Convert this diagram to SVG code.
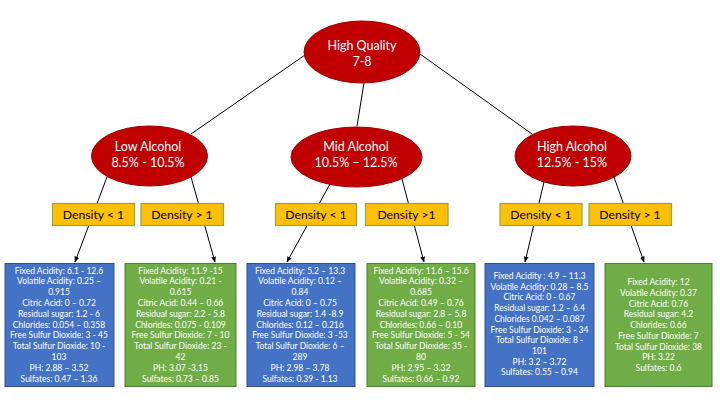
<svg xmlns="http://www.w3.org/2000/svg" width="720" height="405" viewBox="0 0 720 405">
<defs>
<marker id="arr" viewBox="0 0 10 10" refX="9" refY="5" markerWidth="6" markerHeight="6" orient="auto" markerUnits="userSpaceOnUse">
<path d="M0,1 L10,5 L0,9 z" fill="#000"/>
</marker>
<style>
.ell{fill:#C00000;stroke:#A00000;stroke-width:1}
.et{font-family:Lato,"Liberation Sans",sans-serif;font-size:12.5px;fill:#fff;text-anchor:middle}
.den{fill:#FFC000;stroke:#8AA84A;stroke-width:1.2}
.dt{font-family:Lato,"Liberation Sans",sans-serif;font-size:12.2px;fill:#000;text-anchor:middle}
.blue{fill:#4472C4;stroke:#2F528F;stroke-width:1}
.green{fill:#70AD47;stroke:#507E32;stroke-width:1}
.bt{font-family:Lato,"Liberation Sans",sans-serif;font-size:8.5px;fill:#fff;text-anchor:middle}
.ln{stroke:#000;stroke-width:1;fill:none}
.ar{stroke:#000;stroke-width:1;fill:none;marker-end:url(#arr)}
</style>
</defs>
<rect width="720" height="405" fill="#fff"/>
<g id="connectors">
<line class="ln" x1="305" y1="55" x2="191" y2="134"/>
<line class="ln" x1="364" y1="83" x2="357" y2="126"/>
<line class="ln" x1="420" y1="54" x2="532" y2="134"/>
<line class="ar" x1="107" y1="177" x2="75" y2="262"/>
<line class="ar" x1="191" y1="177" x2="215" y2="262"/>
<line class="ar" x1="330" y1="184" x2="287" y2="262"/>
<line class="ar" x1="402" y1="179" x2="424" y2="262"/>
<line class="ar" x1="544" y1="182" x2="525" y2="262"/>
<line class="ar" x1="614" y1="177" x2="644" y2="262"/>
</g>
<g id="root">
<ellipse class="ell" cx="362" cy="52" rx="58" ry="31"/>
<text class="et" x="362" y="49.5">High Quality</text>
<text class="et" x="362" y="66">7-8</text>
</g>
<g id="low">
<ellipse class="ell" cx="149.5" cy="156" rx="58" ry="30"/>
<text class="et" x="148" y="150.5">Low Alcohol</text>
<text class="et" x="148" y="167">8.5% - 10.5%</text>
</g>
<g id="mid">
<ellipse class="ell" cx="356.5" cy="157" rx="65.5" ry="30"/>
<text class="et" x="356" y="150.5">Mid Alcohol</text>
<text class="et" x="356" y="167">10.5% – 12.5%</text>
</g>
<g id="high">
<ellipse class="ell" cx="573" cy="156" rx="58" ry="30"/>
<text class="et" x="572" y="150.5">High Alcohol</text>
<text class="et" x="572" y="167">12.5% - 15%</text>
</g>
<g id="d1"><rect class="den" x="52.5" y="203.5" width="82" height="22"/><text class="dt" x="93.5" y="219">Density &lt; 1</text></g>
<g id="d2"><rect class="den" x="141" y="203.5" width="82.5" height="22"/><text class="dt" x="182" y="219">Density &gt; 1</text></g>
<g id="d3"><rect class="den" x="275.5" y="203.5" width="81" height="22"/><text class="dt" x="316" y="219">Density &lt; 1</text></g>
<g id="d4"><rect class="den" x="365.5" y="203.5" width="82.5" height="22"/><text class="dt" x="406.5" y="219">Density &gt;1</text></g>
<g id="d5"><rect class="den" x="500" y="203.5" width="82" height="22"/><text class="dt" x="541" y="219">Density &lt; 1</text></g>
<g id="d6"><rect class="den" x="589" y="203.5" width="82.5" height="22"/><text class="dt" x="630" y="219">Density &gt; 1</text></g>
<g id="leafA">
<rect class="blue" x="5" y="263.5" width="109" height="123"/>
<text class="bt" x="59" y="273.5">Fixed Acidity: 6.1 - 12.6</text>
<text class="bt" x="59" y="284.3">Volatile Acidity: 0.25 –</text>
<text class="bt" x="59" y="295.1">0.915</text>
<text class="bt" x="59" y="305.9">Citric Acid: 0 – 0.72</text>
<text class="bt" x="59" y="316.7">Residual sugar: 1.2 - 6</text>
<text class="bt" x="59" y="327.5">Chlorides: 0.054 – 0.358</text>
<text class="bt" x="59" y="338.3">Free Sulfur Dioxide: 3 - 45</text>
<text class="bt" x="59" y="349.1">Total Sulfur Dioxide: 10 -</text>
<text class="bt" x="59" y="359.9">103</text>
<text class="bt" x="59" y="370.7">PH: 2.88 – 3.52</text>
<text class="bt" x="59" y="381.5">Sulfates: 0.47 – 1.36</text>
</g>
<g id="leafB">
<rect class="green" x="125" y="263.5" width="111" height="123"/>
<text class="bt" x="180.5" y="273.5">Fixed Acidity: 11.9 -15</text>
<text class="bt" x="180.5" y="284.3">Volatile Acidity: 0.21 -</text>
<text class="bt" x="180.5" y="295.1">0.615</text>
<text class="bt" x="180.5" y="305.9">Citric Acid: 0.44 – 0.66</text>
<text class="bt" x="180.5" y="316.7">Residual sugar: 2.2 - 5.8</text>
<text class="bt" x="180.5" y="327.5">Chlorides: 0.075 - 0.109</text>
<text class="bt" x="180.5" y="338.3">Free Sulfur Dioxide: 7 - 10</text>
<text class="bt" x="180.5" y="349.1">Total Sulfur Dioxide: 23 -</text>
<text class="bt" x="180.5" y="359.9">42</text>
<text class="bt" x="180.5" y="370.7">PH: 3.07 -3.15</text>
<text class="bt" x="180.5" y="381.5">Sulfates: 0.73 – 0.85</text>
</g>
<g id="leafC">
<rect class="blue" x="247" y="263.5" width="108" height="123"/>
<text class="bt" x="300" y="273.5">Fixed Acidity: 5.2 – 13.3</text>
<text class="bt" x="300" y="284.3">Volatile Acidity: 0.12 –</text>
<text class="bt" x="300" y="295.1">0.84</text>
<text class="bt" x="300" y="305.9">Citric Acid: 0 – 0.75</text>
<text class="bt" x="300" y="316.7">Residual sugar: 1.4 -8.9</text>
<text class="bt" x="300" y="327.5">Chlorides: 0.12 – 0.216</text>
<text class="bt" x="300" y="338.3">Free Sulfur Dioxide: 3 -53</text>
<text class="bt" x="300" y="349.1">Total Sulfur Dioxide: 6 –</text>
<text class="bt" x="300" y="359.9">289</text>
<text class="bt" x="300" y="370.7">PH: 2.98 – 3.78</text>
<text class="bt" x="300" y="381.5">Sulfates: 0.39 - 1.13</text>
</g>
<g id="leafD">
<rect class="green" x="367" y="263.5" width="108" height="123"/>
<text class="bt" x="421" y="273.5">Fixed Acidity: 11.6 – 15.6</text>
<text class="bt" x="421" y="284.3">Volatile Acidity: 0.32 –</text>
<text class="bt" x="421" y="295.1">0.685</text>
<text class="bt" x="421" y="305.9">Citric Acid: 0.49 – 0.76</text>
<text class="bt" x="421" y="316.7">Residual sugar: 2.8 – 5.8</text>
<text class="bt" x="421" y="327.5">Chlorides: 0.66 – 0.10</text>
<text class="bt" x="421" y="338.3">Free Sulfur Dioxide: 5 - 54</text>
<text class="bt" x="421" y="349.1">Total Sulfur Dioxide: 35 -</text>
<text class="bt" x="421" y="359.9">80</text>
<text class="bt" x="421" y="370.7">PH: 2.95 – 3.32</text>
<text class="bt" x="421" y="381.5">Sulfates: 0.66 – 0.92</text>
</g>
<g id="leafE">
<rect class="blue" x="485" y="263.5" width="109" height="123"/>
<text class="bt" x="539.5" y="279">Fixed Acidity : 4.9 – 11.3</text>
<text class="bt" x="539.5" y="289.7">Volatile Acidity: 0.28 – 8.5</text>
<text class="bt" x="539.5" y="300.4">Citric Acid: 0 - 0.67</text>
<text class="bt" x="539.5" y="311.1">Residual sugar: 1.2 – 6.4</text>
<text class="bt" x="539.5" y="321.8">Chlorides 0.042 – 0.087</text>
<text class="bt" x="539.5" y="332.5">Free Sulfur Dioxide: 3 - 34</text>
<text class="bt" x="539.5" y="343.2">Total Sulfur Dioxide: 8 -</text>
<text class="bt" x="539.5" y="353.9">101</text>
<text class="bt" x="539.5" y="364.6">PH: 3.2 – 3.72</text>
<text class="bt" x="539.5" y="375.3">Sulfates: 0.55 – 0.94</text>
</g>
<g id="leafF">
<rect class="green" x="605" y="263.5" width="107" height="123"/>
<text class="bt" x="658.5" y="285">Fixed Acidity: 12</text>
<text class="bt" x="658.5" y="295.75">Volatile Acidity: 0.37</text>
<text class="bt" x="658.5" y="306.5">Citric Acid: 0.76</text>
<text class="bt" x="658.5" y="317.25">Residual sugar: 4.2</text>
<text class="bt" x="658.5" y="328">Chlorides: 0.66</text>
<text class="bt" x="658.5" y="338.75">Free Sulfur Dioxide: 7</text>
<text class="bt" x="658.5" y="349.5">Total Sulfur Dioxide: 38</text>
<text class="bt" x="658.5" y="360.25">PH: 3.22</text>
<text class="bt" x="658.5" y="371">Sulfates: 0.6</text>
</g>
</svg>
